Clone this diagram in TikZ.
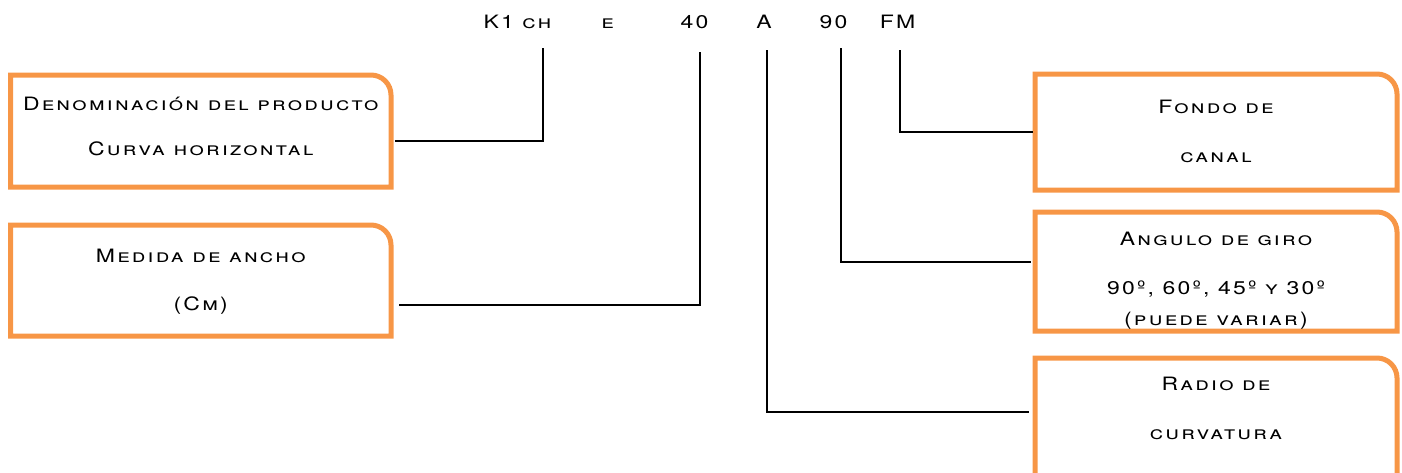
\documentclass[tikz,border=0pt]{standalone}
\usepackage{fontspec}
\setmainfont{TeX Gyre Heros}[LetterSpace=12, FakeStretch=1.25]
\usetikzlibrary{positioning}
\definecolor{borange}{RGB}{247,150,70}
\newcommand{\codefont}{\fontsize{9.2}{24.5}\selectfont\scshape}
\tikzset{
  frame/.style={draw=none, inner sep=0pt, outer sep=0pt},
  obox/.style={draw=borange, line width=2.5pt},
  lbl/.style={anchor=base, inner sep=0pt, font=\codefont},
  lead/.style={black, line width=1pt},
}

\begin{document}
\begin{tikzpicture}[x=0.5pt, y=-0.5pt]
  \useasboundingbox (0,0) rectangle (1402,472);
  \clip (0,0) rectangle (1402,472);
  % code of the piece
  \node[lbl] (k1ch) at (517.5,28) {K1 ch};
  \node[lbl] (e) at (607.5,28) {e};
  \node[lbl] (w40) at (694.5,28) {40};
  \node[lbl] (a) at (764,28) {A};
  \node[lbl] (g90) at (833.5,28) {90};
  \node[lbl] (fm) at (897.5,28) {FM};
  % frames
  \node[frame, minimum width=190.25pt, minimum height=56pt] (denom) at (200.75,131) {};
  \node[frame, minimum width=190.25pt, minimum height=55.5pt] (ancho) at (200.75,280.5) {};
  \node[frame, minimum width=181pt, minimum height=58pt] (fondo) at (1216,132) {};
  \node[frame, minimum width=181pt, minimum height=59.5pt] (angulo) at (1216,271.5) {};
  \node[frame, minimum width=181pt, minimum height=75pt] (radio) at (1216,433) {};
  \foreach \b in {denom,ancho,fondo,angulo,radio}
    \draw[obox] (\b.south west) -- (\b.north west) -- ([xshift=-10pt]\b.north east)
      arc[start angle=90, end angle=0, radius=10pt] -- (\b.south east) -- cycle;
  % texts
  \node[lbl] (denom1) at (200.75,110) {Denominación del producto};
  \node[lbl] (denom2) at (200.75,155.7) {Curva horizontal};
  \node[lbl] (ancho1) at (200.75,262.7) {Medida de ancho};
  \node[lbl] (ancho2) at (200.75,310.5) {(Cm)};
  \node[lbl] (fondo1) at (1216,113.3) {Fondo de};
  \node[lbl] (fondo2) at (1216,162.3) {canal};
  \node[lbl] (angulo1) at (1216,245) {Angulo de giro};
  \node[lbl] (angulo2) at (1216,294.3) {90º, 60º, 45º y 30º};
  \node[lbl] (angulo3) at (1216,325) {(puede variar)};
  \node[lbl] (radio1) at (1216,390.7) {Radio de};
  \node[lbl] (radio2) at (1216,439) {curvatura};
  % leads
  \coordinate (tch) at (543,48);
  \coordinate (t40) at (700,52);
  \coordinate (ta) at (767,50);
  \coordinate (t90) at (841,48);
  \coordinate (tfm) at (900,50);
  \draw[lead] (tch) |- ([xshift=2pt, yshift=-5pt]denom.east);
  \draw[lead] (t40) |- ([xshift=4pt, yshift=-12pt]ancho.east);
  \draw[lead] (ta) |- ([xshift=-3pt, yshift=10.5pt]radio.west);
  \draw[lead] (t90) |- ([xshift=-2pt, yshift=5pt]angulo.west);
  \draw[lead] (tfm) |- ([xshift=-1pt]fondo.west);
\end{tikzpicture}
\end{document}
